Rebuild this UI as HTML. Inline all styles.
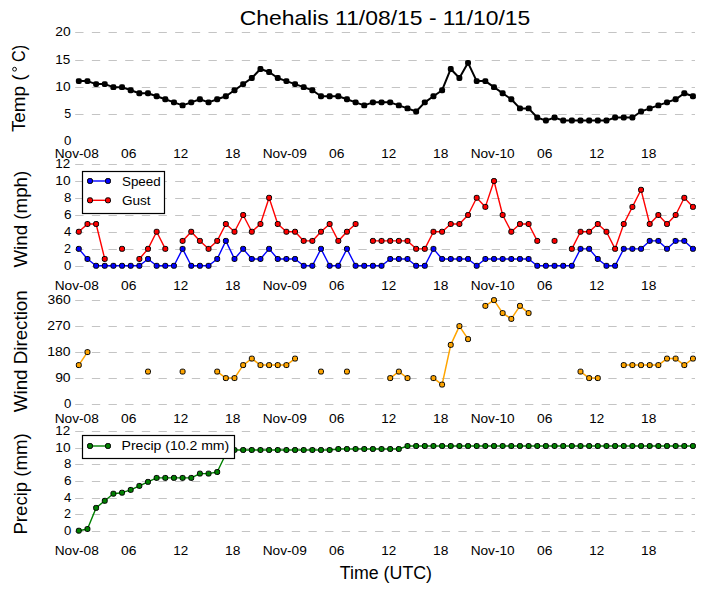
<!DOCTYPE html>
<html><head><meta charset="utf-8"><style>
html,body{margin:0;padding:0;background:#fff;overflow:hidden;width:705px;height:593px;}
svg{display:block;}
text{font-family:"Liberation Sans",sans-serif;fill:#000;}
.g{stroke:#c4c4c4;stroke-width:1;stroke-dasharray:8.33 8.33;}
</style></head><body>
<svg width="705" height="593" viewBox="0 0 705 593">
<rect width="705" height="593" fill="#fff"/>
<line x1="75.2" y1="32.5" x2="695.0" y2="32.5" class="g"/>
<line x1="75.2" y1="60.5" x2="695.0" y2="60.5" class="g"/>
<line x1="75.2" y1="87.5" x2="695.0" y2="87.5" class="g"/>
<line x1="75.2" y1="114.5" x2="695.0" y2="114.5" class="g"/>
<line x1="75.2" y1="164.5" x2="695.0" y2="164.5" class="g"/>
<line x1="75.2" y1="181.5" x2="695.0" y2="181.5" class="g"/>
<line x1="75.2" y1="198.5" x2="695.0" y2="198.5" class="g"/>
<line x1="75.2" y1="215.5" x2="695.0" y2="215.5" class="g"/>
<line x1="75.2" y1="232.5" x2="695.0" y2="232.5" class="g"/>
<line x1="75.2" y1="249.5" x2="695.0" y2="249.5" class="g"/>
<line x1="75.2" y1="266.5" x2="695.0" y2="266.5" class="g"/>
<line x1="75.2" y1="300.5" x2="695.0" y2="300.5" class="g"/>
<line x1="75.2" y1="326.5" x2="695.0" y2="326.5" class="g"/>
<line x1="75.2" y1="352.5" x2="695.0" y2="352.5" class="g"/>
<line x1="75.2" y1="378.5" x2="695.0" y2="378.5" class="g"/>
<line x1="75.2" y1="404.5" x2="695.0" y2="404.5" class="g"/>
<line x1="75.2" y1="431.5" x2="695.0" y2="431.5" class="g"/>
<line x1="75.2" y1="448.5" x2="695.0" y2="448.5" class="g"/>
<line x1="75.2" y1="464.5" x2="695.0" y2="464.5" class="g"/>
<line x1="75.2" y1="481.5" x2="695.0" y2="481.5" class="g"/>
<line x1="75.2" y1="498.5" x2="695.0" y2="498.5" class="g"/>
<line x1="75.2" y1="514.5" x2="695.0" y2="514.5" class="g"/>
<line x1="75.2" y1="531.5" x2="695.0" y2="531.5" class="g"/>
<text x="64.14" y="144.80" font-size="13.1" textLength="7.34" lengthAdjust="spacingAndGlyphs">0</text>
<text x="64.27" y="117.50" font-size="13.1" textLength="6.93" lengthAdjust="spacingAndGlyphs">5</text>
<text x="55.29" y="90.50" font-size="13.1" textLength="15.29" lengthAdjust="spacingAndGlyphs">10</text>
<text x="55.31" y="63.50" font-size="13.1" textLength="15.02" lengthAdjust="spacingAndGlyphs">15</text>
<text x="55.21" y="35.50" font-size="13.1" textLength="15.38" lengthAdjust="spacingAndGlyphs">20</text>
<text x="64.14" y="269.50" font-size="13.1" textLength="7.34" lengthAdjust="spacingAndGlyphs">0</text>
<text x="64.12" y="252.50" font-size="13.1" textLength="7.04" lengthAdjust="spacingAndGlyphs">2</text>
<text x="64.14" y="235.50" font-size="13.1" textLength="7.34" lengthAdjust="spacingAndGlyphs">4</text>
<text x="64.02" y="218.50" font-size="13.1" textLength="7.59" lengthAdjust="spacingAndGlyphs">6</text>
<text x="64.14" y="201.50" font-size="13.1" textLength="7.40" lengthAdjust="spacingAndGlyphs">8</text>
<text x="55.29" y="184.50" font-size="13.1" textLength="15.29" lengthAdjust="spacingAndGlyphs">10</text>
<text x="55.32" y="167.50" font-size="13.1" textLength="14.97" lengthAdjust="spacingAndGlyphs">12</text>
<text x="64.14" y="407.50" font-size="13.1" textLength="7.34" lengthAdjust="spacingAndGlyphs">0</text>
<text x="55.16" y="381.50" font-size="13.1" textLength="15.44" lengthAdjust="spacingAndGlyphs">90</text>
<text x="47.32" y="355.50" font-size="13.1" textLength="23.31" lengthAdjust="spacingAndGlyphs">180</text>
<text x="47.25" y="329.50" font-size="13.1" textLength="23.39" lengthAdjust="spacingAndGlyphs">270</text>
<text x="47.46" y="303.50" font-size="13.1" textLength="23.17" lengthAdjust="spacingAndGlyphs">360</text>
<text x="64.14" y="534.50" font-size="13.1" textLength="7.34" lengthAdjust="spacingAndGlyphs">0</text>
<text x="64.12" y="517.50" font-size="13.1" textLength="7.04" lengthAdjust="spacingAndGlyphs">2</text>
<text x="64.14" y="501.50" font-size="13.1" textLength="7.34" lengthAdjust="spacingAndGlyphs">4</text>
<text x="64.02" y="484.50" font-size="13.1" textLength="7.59" lengthAdjust="spacingAndGlyphs">6</text>
<text x="64.14" y="467.50" font-size="13.1" textLength="7.40" lengthAdjust="spacingAndGlyphs">8</text>
<text x="55.29" y="451.50" font-size="13.1" textLength="15.29" lengthAdjust="spacingAndGlyphs">10</text>
<text x="55.32" y="434.50" font-size="13.1" textLength="14.97" lengthAdjust="spacingAndGlyphs">12</text>
<text x="54.67" y="157.70" font-size="13.1" textLength="44.10" lengthAdjust="spacingAndGlyphs">Nov-08</text>
<text x="121.12" y="157.70" font-size="13.1" textLength="15.44" lengthAdjust="spacingAndGlyphs">06</text>
<text x="173.17" y="157.70" font-size="13.1" textLength="14.97" lengthAdjust="spacingAndGlyphs">12</text>
<text x="225.14" y="157.70" font-size="13.1" textLength="15.36" lengthAdjust="spacingAndGlyphs">18</text>
<text x="262.66" y="157.70" font-size="13.1" textLength="44.16" lengthAdjust="spacingAndGlyphs">Nov-09</text>
<text x="329.12" y="157.70" font-size="13.1" textLength="15.44" lengthAdjust="spacingAndGlyphs">06</text>
<text x="381.17" y="157.70" font-size="13.1" textLength="14.97" lengthAdjust="spacingAndGlyphs">12</text>
<text x="433.14" y="157.70" font-size="13.1" textLength="15.36" lengthAdjust="spacingAndGlyphs">18</text>
<text x="470.67" y="157.70" font-size="13.1" textLength="44.05" lengthAdjust="spacingAndGlyphs">Nov-10</text>
<text x="537.12" y="157.70" font-size="13.1" textLength="15.44" lengthAdjust="spacingAndGlyphs">06</text>
<text x="589.17" y="157.70" font-size="13.1" textLength="14.97" lengthAdjust="spacingAndGlyphs">12</text>
<text x="641.14" y="157.70" font-size="13.1" textLength="15.36" lengthAdjust="spacingAndGlyphs">18</text>
<text x="54.67" y="289.80" font-size="13.1" textLength="44.10" lengthAdjust="spacingAndGlyphs">Nov-08</text>
<text x="121.12" y="289.80" font-size="13.1" textLength="15.44" lengthAdjust="spacingAndGlyphs">06</text>
<text x="173.17" y="289.80" font-size="13.1" textLength="14.97" lengthAdjust="spacingAndGlyphs">12</text>
<text x="225.14" y="289.80" font-size="13.1" textLength="15.36" lengthAdjust="spacingAndGlyphs">18</text>
<text x="262.66" y="289.80" font-size="13.1" textLength="44.16" lengthAdjust="spacingAndGlyphs">Nov-09</text>
<text x="329.12" y="289.80" font-size="13.1" textLength="15.44" lengthAdjust="spacingAndGlyphs">06</text>
<text x="381.17" y="289.80" font-size="13.1" textLength="14.97" lengthAdjust="spacingAndGlyphs">12</text>
<text x="433.14" y="289.80" font-size="13.1" textLength="15.36" lengthAdjust="spacingAndGlyphs">18</text>
<text x="470.67" y="289.80" font-size="13.1" textLength="44.05" lengthAdjust="spacingAndGlyphs">Nov-10</text>
<text x="537.12" y="289.80" font-size="13.1" textLength="15.44" lengthAdjust="spacingAndGlyphs">06</text>
<text x="589.17" y="289.80" font-size="13.1" textLength="14.97" lengthAdjust="spacingAndGlyphs">12</text>
<text x="641.14" y="289.80" font-size="13.1" textLength="15.36" lengthAdjust="spacingAndGlyphs">18</text>
<text x="54.67" y="422.70" font-size="13.1" textLength="44.10" lengthAdjust="spacingAndGlyphs">Nov-08</text>
<text x="121.12" y="422.70" font-size="13.1" textLength="15.44" lengthAdjust="spacingAndGlyphs">06</text>
<text x="173.17" y="422.70" font-size="13.1" textLength="14.97" lengthAdjust="spacingAndGlyphs">12</text>
<text x="225.14" y="422.70" font-size="13.1" textLength="15.36" lengthAdjust="spacingAndGlyphs">18</text>
<text x="262.66" y="422.70" font-size="13.1" textLength="44.16" lengthAdjust="spacingAndGlyphs">Nov-09</text>
<text x="329.12" y="422.70" font-size="13.1" textLength="15.44" lengthAdjust="spacingAndGlyphs">06</text>
<text x="381.17" y="422.70" font-size="13.1" textLength="14.97" lengthAdjust="spacingAndGlyphs">12</text>
<text x="433.14" y="422.70" font-size="13.1" textLength="15.36" lengthAdjust="spacingAndGlyphs">18</text>
<text x="470.67" y="422.70" font-size="13.1" textLength="44.05" lengthAdjust="spacingAndGlyphs">Nov-10</text>
<text x="537.12" y="422.70" font-size="13.1" textLength="15.44" lengthAdjust="spacingAndGlyphs">06</text>
<text x="589.17" y="422.70" font-size="13.1" textLength="14.97" lengthAdjust="spacingAndGlyphs">12</text>
<text x="641.14" y="422.70" font-size="13.1" textLength="15.36" lengthAdjust="spacingAndGlyphs">18</text>
<text x="54.67" y="555.00" font-size="13.1" textLength="44.10" lengthAdjust="spacingAndGlyphs">Nov-08</text>
<text x="121.12" y="555.00" font-size="13.1" textLength="15.44" lengthAdjust="spacingAndGlyphs">06</text>
<text x="173.17" y="555.00" font-size="13.1" textLength="14.97" lengthAdjust="spacingAndGlyphs">12</text>
<text x="225.14" y="555.00" font-size="13.1" textLength="15.36" lengthAdjust="spacingAndGlyphs">18</text>
<text x="262.66" y="555.00" font-size="13.1" textLength="44.16" lengthAdjust="spacingAndGlyphs">Nov-09</text>
<text x="329.12" y="555.00" font-size="13.1" textLength="15.44" lengthAdjust="spacingAndGlyphs">06</text>
<text x="381.17" y="555.00" font-size="13.1" textLength="14.97" lengthAdjust="spacingAndGlyphs">12</text>
<text x="433.14" y="555.00" font-size="13.1" textLength="15.36" lengthAdjust="spacingAndGlyphs">18</text>
<text x="470.67" y="555.00" font-size="13.1" textLength="44.05" lengthAdjust="spacingAndGlyphs">Nov-10</text>
<text x="537.12" y="555.00" font-size="13.1" textLength="15.44" lengthAdjust="spacingAndGlyphs">06</text>
<text x="589.17" y="555.00" font-size="13.1" textLength="14.97" lengthAdjust="spacingAndGlyphs">12</text>
<text x="641.14" y="555.00" font-size="13.1" textLength="15.36" lengthAdjust="spacingAndGlyphs">18</text>
<polyline points="78.80,81.09 87.45,81.09 96.10,84.12 104.75,84.12 113.40,87.16 122.05,87.16 130.70,90.20 139.35,93.23 148.00,93.23 156.65,96.27 165.30,99.31 173.95,102.35 182.60,105.38 191.25,102.35 199.90,99.31 208.55,102.35 217.20,99.31 225.85,96.27 234.50,90.20 243.15,84.12 251.80,78.05 260.45,68.94 269.10,71.97 277.75,78.05 286.40,81.09 295.05,84.12 303.70,87.16 312.35,90.20 321.00,96.27 329.65,96.27 338.30,96.27 346.95,99.31 355.60,102.35 364.25,105.38 372.90,102.35 381.55,102.35 390.20,102.35 398.85,105.38 407.50,108.42 416.15,111.46 424.80,102.35 433.45,96.27 442.10,90.20 450.75,68.94 459.40,78.05 468.05,62.86 476.70,81.09 485.35,81.09 494.00,87.16 502.65,93.23 511.30,99.31 519.95,108.42 528.60,108.42 537.25,117.53 545.90,120.57 554.55,117.53 563.20,120.57 571.85,120.57 580.50,120.57 589.15,120.57 597.80,120.57 606.45,120.57 615.10,117.53 623.75,117.53 632.40,117.53 641.05,111.46 649.70,108.42 658.35,105.38 667.00,102.35 675.65,99.31 684.30,93.23 692.95,96.27" fill="none" stroke="#000" stroke-width="2" stroke-linejoin="round" stroke-linecap="butt"/>
<rect x="75.85" y="78.14" width="5.90" height="5.90" rx="1.95" fill="#000" stroke="#000" stroke-width="0"/>
<rect x="84.50" y="78.14" width="5.90" height="5.90" rx="1.95" fill="#000" stroke="#000" stroke-width="0"/>
<rect x="93.15" y="81.17" width="5.90" height="5.90" rx="1.95" fill="#000" stroke="#000" stroke-width="0"/>
<rect x="101.80" y="81.17" width="5.90" height="5.90" rx="1.95" fill="#000" stroke="#000" stroke-width="0"/>
<rect x="110.45" y="84.21" width="5.90" height="5.90" rx="1.95" fill="#000" stroke="#000" stroke-width="0"/>
<rect x="119.10" y="84.21" width="5.90" height="5.90" rx="1.95" fill="#000" stroke="#000" stroke-width="0"/>
<rect x="127.75" y="87.25" width="5.90" height="5.90" rx="1.95" fill="#000" stroke="#000" stroke-width="0"/>
<rect x="136.40" y="90.28" width="5.90" height="5.90" rx="1.95" fill="#000" stroke="#000" stroke-width="0"/>
<rect x="145.05" y="90.28" width="5.90" height="5.90" rx="1.95" fill="#000" stroke="#000" stroke-width="0"/>
<rect x="153.70" y="93.32" width="5.90" height="5.90" rx="1.95" fill="#000" stroke="#000" stroke-width="0"/>
<rect x="162.35" y="96.36" width="5.90" height="5.90" rx="1.95" fill="#000" stroke="#000" stroke-width="0"/>
<rect x="171.00" y="99.40" width="5.90" height="5.90" rx="1.95" fill="#000" stroke="#000" stroke-width="0"/>
<rect x="179.65" y="102.43" width="5.90" height="5.90" rx="1.95" fill="#000" stroke="#000" stroke-width="0"/>
<rect x="188.30" y="99.40" width="5.90" height="5.90" rx="1.95" fill="#000" stroke="#000" stroke-width="0"/>
<rect x="196.95" y="96.36" width="5.90" height="5.90" rx="1.95" fill="#000" stroke="#000" stroke-width="0"/>
<rect x="205.60" y="99.40" width="5.90" height="5.90" rx="1.95" fill="#000" stroke="#000" stroke-width="0"/>
<rect x="214.25" y="96.36" width="5.90" height="5.90" rx="1.95" fill="#000" stroke="#000" stroke-width="0"/>
<rect x="222.90" y="93.32" width="5.90" height="5.90" rx="1.95" fill="#000" stroke="#000" stroke-width="0"/>
<rect x="231.55" y="87.25" width="5.90" height="5.90" rx="1.95" fill="#000" stroke="#000" stroke-width="0"/>
<rect x="240.20" y="81.17" width="5.90" height="5.90" rx="1.95" fill="#000" stroke="#000" stroke-width="0"/>
<rect x="248.85" y="75.10" width="5.90" height="5.90" rx="1.95" fill="#000" stroke="#000" stroke-width="0"/>
<rect x="257.50" y="65.99" width="5.90" height="5.90" rx="1.95" fill="#000" stroke="#000" stroke-width="0"/>
<rect x="266.15" y="69.02" width="5.90" height="5.90" rx="1.95" fill="#000" stroke="#000" stroke-width="0"/>
<rect x="274.80" y="75.10" width="5.90" height="5.90" rx="1.95" fill="#000" stroke="#000" stroke-width="0"/>
<rect x="283.45" y="78.14" width="5.90" height="5.90" rx="1.95" fill="#000" stroke="#000" stroke-width="0"/>
<rect x="292.10" y="81.17" width="5.90" height="5.90" rx="1.95" fill="#000" stroke="#000" stroke-width="0"/>
<rect x="300.75" y="84.21" width="5.90" height="5.90" rx="1.95" fill="#000" stroke="#000" stroke-width="0"/>
<rect x="309.40" y="87.25" width="5.90" height="5.90" rx="1.95" fill="#000" stroke="#000" stroke-width="0"/>
<rect x="318.05" y="93.32" width="5.90" height="5.90" rx="1.95" fill="#000" stroke="#000" stroke-width="0"/>
<rect x="326.70" y="93.32" width="5.90" height="5.90" rx="1.95" fill="#000" stroke="#000" stroke-width="0"/>
<rect x="335.35" y="93.32" width="5.90" height="5.90" rx="1.95" fill="#000" stroke="#000" stroke-width="0"/>
<rect x="344.00" y="96.36" width="5.90" height="5.90" rx="1.95" fill="#000" stroke="#000" stroke-width="0"/>
<rect x="352.65" y="99.40" width="5.90" height="5.90" rx="1.95" fill="#000" stroke="#000" stroke-width="0"/>
<rect x="361.30" y="102.43" width="5.90" height="5.90" rx="1.95" fill="#000" stroke="#000" stroke-width="0"/>
<rect x="369.95" y="99.40" width="5.90" height="5.90" rx="1.95" fill="#000" stroke="#000" stroke-width="0"/>
<rect x="378.60" y="99.40" width="5.90" height="5.90" rx="1.95" fill="#000" stroke="#000" stroke-width="0"/>
<rect x="387.25" y="99.40" width="5.90" height="5.90" rx="1.95" fill="#000" stroke="#000" stroke-width="0"/>
<rect x="395.90" y="102.43" width="5.90" height="5.90" rx="1.95" fill="#000" stroke="#000" stroke-width="0"/>
<rect x="404.55" y="105.47" width="5.90" height="5.90" rx="1.95" fill="#000" stroke="#000" stroke-width="0"/>
<rect x="413.20" y="108.51" width="5.90" height="5.90" rx="1.95" fill="#000" stroke="#000" stroke-width="0"/>
<rect x="421.85" y="99.40" width="5.90" height="5.90" rx="1.95" fill="#000" stroke="#000" stroke-width="0"/>
<rect x="430.50" y="93.32" width="5.90" height="5.90" rx="1.95" fill="#000" stroke="#000" stroke-width="0"/>
<rect x="439.15" y="87.25" width="5.90" height="5.90" rx="1.95" fill="#000" stroke="#000" stroke-width="0"/>
<rect x="447.80" y="65.99" width="5.90" height="5.90" rx="1.95" fill="#000" stroke="#000" stroke-width="0"/>
<rect x="456.45" y="75.10" width="5.90" height="5.90" rx="1.95" fill="#000" stroke="#000" stroke-width="0"/>
<rect x="465.10" y="59.91" width="5.90" height="5.90" rx="1.95" fill="#000" stroke="#000" stroke-width="0"/>
<rect x="473.75" y="78.14" width="5.90" height="5.90" rx="1.95" fill="#000" stroke="#000" stroke-width="0"/>
<rect x="482.40" y="78.14" width="5.90" height="5.90" rx="1.95" fill="#000" stroke="#000" stroke-width="0"/>
<rect x="491.05" y="84.21" width="5.90" height="5.90" rx="1.95" fill="#000" stroke="#000" stroke-width="0"/>
<rect x="499.70" y="90.28" width="5.90" height="5.90" rx="1.95" fill="#000" stroke="#000" stroke-width="0"/>
<rect x="508.35" y="96.36" width="5.90" height="5.90" rx="1.95" fill="#000" stroke="#000" stroke-width="0"/>
<rect x="517.00" y="105.47" width="5.90" height="5.90" rx="1.95" fill="#000" stroke="#000" stroke-width="0"/>
<rect x="525.65" y="105.47" width="5.90" height="5.90" rx="1.95" fill="#000" stroke="#000" stroke-width="0"/>
<rect x="534.30" y="114.58" width="5.90" height="5.90" rx="1.95" fill="#000" stroke="#000" stroke-width="0"/>
<rect x="542.95" y="117.62" width="5.90" height="5.90" rx="1.95" fill="#000" stroke="#000" stroke-width="0"/>
<rect x="551.60" y="114.58" width="5.90" height="5.90" rx="1.95" fill="#000" stroke="#000" stroke-width="0"/>
<rect x="560.25" y="117.62" width="5.90" height="5.90" rx="1.95" fill="#000" stroke="#000" stroke-width="0"/>
<rect x="568.90" y="117.62" width="5.90" height="5.90" rx="1.95" fill="#000" stroke="#000" stroke-width="0"/>
<rect x="577.55" y="117.62" width="5.90" height="5.90" rx="1.95" fill="#000" stroke="#000" stroke-width="0"/>
<rect x="586.20" y="117.62" width="5.90" height="5.90" rx="1.95" fill="#000" stroke="#000" stroke-width="0"/>
<rect x="594.85" y="117.62" width="5.90" height="5.90" rx="1.95" fill="#000" stroke="#000" stroke-width="0"/>
<rect x="603.50" y="117.62" width="5.90" height="5.90" rx="1.95" fill="#000" stroke="#000" stroke-width="0"/>
<rect x="612.15" y="114.58" width="5.90" height="5.90" rx="1.95" fill="#000" stroke="#000" stroke-width="0"/>
<rect x="620.80" y="114.58" width="5.90" height="5.90" rx="1.95" fill="#000" stroke="#000" stroke-width="0"/>
<rect x="629.45" y="114.58" width="5.90" height="5.90" rx="1.95" fill="#000" stroke="#000" stroke-width="0"/>
<rect x="638.10" y="108.51" width="5.90" height="5.90" rx="1.95" fill="#000" stroke="#000" stroke-width="0"/>
<rect x="646.75" y="105.47" width="5.90" height="5.90" rx="1.95" fill="#000" stroke="#000" stroke-width="0"/>
<rect x="655.40" y="102.43" width="5.90" height="5.90" rx="1.95" fill="#000" stroke="#000" stroke-width="0"/>
<rect x="664.05" y="99.40" width="5.90" height="5.90" rx="1.95" fill="#000" stroke="#000" stroke-width="0"/>
<rect x="672.70" y="96.36" width="5.90" height="5.90" rx="1.95" fill="#000" stroke="#000" stroke-width="0"/>
<rect x="681.35" y="90.28" width="5.90" height="5.90" rx="1.95" fill="#000" stroke="#000" stroke-width="0"/>
<rect x="690.00" y="93.32" width="5.90" height="5.90" rx="1.95" fill="#000" stroke="#000" stroke-width="0"/>
<polyline points="78.80,248.85 87.45,258.95 96.10,265.80 104.75,265.80 113.40,265.80 122.05,265.80 130.70,265.80 139.35,265.80 148.00,258.95 156.65,265.80 165.30,265.80 173.95,265.80 182.60,248.85 191.25,265.80 199.90,265.80 208.55,265.80 217.20,258.95 225.85,240.90 234.50,258.95 243.15,248.85 251.80,258.95 260.45,258.95 269.10,248.85 277.75,258.95 286.40,258.95 295.05,258.95 303.70,265.80 312.35,265.80 321.00,248.85 329.65,265.80 338.30,265.80 346.95,248.85 355.60,265.80 364.25,265.80 372.90,265.80 381.55,265.80 390.20,258.95 398.85,258.95 407.50,258.95 416.15,265.80 424.80,265.80 433.45,248.85 442.10,258.95 450.75,258.95 459.40,258.95 468.05,258.95 476.70,265.80 485.35,258.95 494.00,258.95 502.65,258.95 511.30,258.95 519.95,258.95 528.60,258.95 537.25,265.80 545.90,265.80 554.55,265.80 563.20,265.80 571.85,265.80 580.50,248.85 589.15,248.85 597.80,258.95 606.45,265.80 615.10,265.80 623.75,248.85 632.40,248.85 641.05,248.85 649.70,240.90 658.35,240.90 667.00,248.85 675.65,240.90 684.30,240.90 692.95,248.85" fill="none" stroke="#0000ff" stroke-width="1.4" stroke-linejoin="round" stroke-linecap="butt"/>
<rect x="76.35" y="246.40" width="4.90" height="4.90" rx="1.62" fill="#0000ff" stroke="#000" stroke-width="1.0"/>
<rect x="85.00" y="256.50" width="4.90" height="4.90" rx="1.62" fill="#0000ff" stroke="#000" stroke-width="1.0"/>
<rect x="93.65" y="263.35" width="4.90" height="4.90" rx="1.62" fill="#0000ff" stroke="#000" stroke-width="1.0"/>
<rect x="102.30" y="263.35" width="4.90" height="4.90" rx="1.62" fill="#0000ff" stroke="#000" stroke-width="1.0"/>
<rect x="110.95" y="263.35" width="4.90" height="4.90" rx="1.62" fill="#0000ff" stroke="#000" stroke-width="1.0"/>
<rect x="119.60" y="263.35" width="4.90" height="4.90" rx="1.62" fill="#0000ff" stroke="#000" stroke-width="1.0"/>
<rect x="128.25" y="263.35" width="4.90" height="4.90" rx="1.62" fill="#0000ff" stroke="#000" stroke-width="1.0"/>
<rect x="136.90" y="263.35" width="4.90" height="4.90" rx="1.62" fill="#0000ff" stroke="#000" stroke-width="1.0"/>
<rect x="145.55" y="256.50" width="4.90" height="4.90" rx="1.62" fill="#0000ff" stroke="#000" stroke-width="1.0"/>
<rect x="154.20" y="263.35" width="4.90" height="4.90" rx="1.62" fill="#0000ff" stroke="#000" stroke-width="1.0"/>
<rect x="162.85" y="263.35" width="4.90" height="4.90" rx="1.62" fill="#0000ff" stroke="#000" stroke-width="1.0"/>
<rect x="171.50" y="263.35" width="4.90" height="4.90" rx="1.62" fill="#0000ff" stroke="#000" stroke-width="1.0"/>
<rect x="180.15" y="246.40" width="4.90" height="4.90" rx="1.62" fill="#0000ff" stroke="#000" stroke-width="1.0"/>
<rect x="188.80" y="263.35" width="4.90" height="4.90" rx="1.62" fill="#0000ff" stroke="#000" stroke-width="1.0"/>
<rect x="197.45" y="263.35" width="4.90" height="4.90" rx="1.62" fill="#0000ff" stroke="#000" stroke-width="1.0"/>
<rect x="206.10" y="263.35" width="4.90" height="4.90" rx="1.62" fill="#0000ff" stroke="#000" stroke-width="1.0"/>
<rect x="214.75" y="256.50" width="4.90" height="4.90" rx="1.62" fill="#0000ff" stroke="#000" stroke-width="1.0"/>
<rect x="223.40" y="238.45" width="4.90" height="4.90" rx="1.62" fill="#0000ff" stroke="#000" stroke-width="1.0"/>
<rect x="232.05" y="256.50" width="4.90" height="4.90" rx="1.62" fill="#0000ff" stroke="#000" stroke-width="1.0"/>
<rect x="240.70" y="246.40" width="4.90" height="4.90" rx="1.62" fill="#0000ff" stroke="#000" stroke-width="1.0"/>
<rect x="249.35" y="256.50" width="4.90" height="4.90" rx="1.62" fill="#0000ff" stroke="#000" stroke-width="1.0"/>
<rect x="258.00" y="256.50" width="4.90" height="4.90" rx="1.62" fill="#0000ff" stroke="#000" stroke-width="1.0"/>
<rect x="266.65" y="246.40" width="4.90" height="4.90" rx="1.62" fill="#0000ff" stroke="#000" stroke-width="1.0"/>
<rect x="275.30" y="256.50" width="4.90" height="4.90" rx="1.62" fill="#0000ff" stroke="#000" stroke-width="1.0"/>
<rect x="283.95" y="256.50" width="4.90" height="4.90" rx="1.62" fill="#0000ff" stroke="#000" stroke-width="1.0"/>
<rect x="292.60" y="256.50" width="4.90" height="4.90" rx="1.62" fill="#0000ff" stroke="#000" stroke-width="1.0"/>
<rect x="301.25" y="263.35" width="4.90" height="4.90" rx="1.62" fill="#0000ff" stroke="#000" stroke-width="1.0"/>
<rect x="309.90" y="263.35" width="4.90" height="4.90" rx="1.62" fill="#0000ff" stroke="#000" stroke-width="1.0"/>
<rect x="318.55" y="246.40" width="4.90" height="4.90" rx="1.62" fill="#0000ff" stroke="#000" stroke-width="1.0"/>
<rect x="327.20" y="263.35" width="4.90" height="4.90" rx="1.62" fill="#0000ff" stroke="#000" stroke-width="1.0"/>
<rect x="335.85" y="263.35" width="4.90" height="4.90" rx="1.62" fill="#0000ff" stroke="#000" stroke-width="1.0"/>
<rect x="344.50" y="246.40" width="4.90" height="4.90" rx="1.62" fill="#0000ff" stroke="#000" stroke-width="1.0"/>
<rect x="353.15" y="263.35" width="4.90" height="4.90" rx="1.62" fill="#0000ff" stroke="#000" stroke-width="1.0"/>
<rect x="361.80" y="263.35" width="4.90" height="4.90" rx="1.62" fill="#0000ff" stroke="#000" stroke-width="1.0"/>
<rect x="370.45" y="263.35" width="4.90" height="4.90" rx="1.62" fill="#0000ff" stroke="#000" stroke-width="1.0"/>
<rect x="379.10" y="263.35" width="4.90" height="4.90" rx="1.62" fill="#0000ff" stroke="#000" stroke-width="1.0"/>
<rect x="387.75" y="256.50" width="4.90" height="4.90" rx="1.62" fill="#0000ff" stroke="#000" stroke-width="1.0"/>
<rect x="396.40" y="256.50" width="4.90" height="4.90" rx="1.62" fill="#0000ff" stroke="#000" stroke-width="1.0"/>
<rect x="405.05" y="256.50" width="4.90" height="4.90" rx="1.62" fill="#0000ff" stroke="#000" stroke-width="1.0"/>
<rect x="413.70" y="263.35" width="4.90" height="4.90" rx="1.62" fill="#0000ff" stroke="#000" stroke-width="1.0"/>
<rect x="422.35" y="263.35" width="4.90" height="4.90" rx="1.62" fill="#0000ff" stroke="#000" stroke-width="1.0"/>
<rect x="431.00" y="246.40" width="4.90" height="4.90" rx="1.62" fill="#0000ff" stroke="#000" stroke-width="1.0"/>
<rect x="439.65" y="256.50" width="4.90" height="4.90" rx="1.62" fill="#0000ff" stroke="#000" stroke-width="1.0"/>
<rect x="448.30" y="256.50" width="4.90" height="4.90" rx="1.62" fill="#0000ff" stroke="#000" stroke-width="1.0"/>
<rect x="456.95" y="256.50" width="4.90" height="4.90" rx="1.62" fill="#0000ff" stroke="#000" stroke-width="1.0"/>
<rect x="465.60" y="256.50" width="4.90" height="4.90" rx="1.62" fill="#0000ff" stroke="#000" stroke-width="1.0"/>
<rect x="474.25" y="263.35" width="4.90" height="4.90" rx="1.62" fill="#0000ff" stroke="#000" stroke-width="1.0"/>
<rect x="482.90" y="256.50" width="4.90" height="4.90" rx="1.62" fill="#0000ff" stroke="#000" stroke-width="1.0"/>
<rect x="491.55" y="256.50" width="4.90" height="4.90" rx="1.62" fill="#0000ff" stroke="#000" stroke-width="1.0"/>
<rect x="500.20" y="256.50" width="4.90" height="4.90" rx="1.62" fill="#0000ff" stroke="#000" stroke-width="1.0"/>
<rect x="508.85" y="256.50" width="4.90" height="4.90" rx="1.62" fill="#0000ff" stroke="#000" stroke-width="1.0"/>
<rect x="517.50" y="256.50" width="4.90" height="4.90" rx="1.62" fill="#0000ff" stroke="#000" stroke-width="1.0"/>
<rect x="526.15" y="256.50" width="4.90" height="4.90" rx="1.62" fill="#0000ff" stroke="#000" stroke-width="1.0"/>
<rect x="534.80" y="263.35" width="4.90" height="4.90" rx="1.62" fill="#0000ff" stroke="#000" stroke-width="1.0"/>
<rect x="543.45" y="263.35" width="4.90" height="4.90" rx="1.62" fill="#0000ff" stroke="#000" stroke-width="1.0"/>
<rect x="552.10" y="263.35" width="4.90" height="4.90" rx="1.62" fill="#0000ff" stroke="#000" stroke-width="1.0"/>
<rect x="560.75" y="263.35" width="4.90" height="4.90" rx="1.62" fill="#0000ff" stroke="#000" stroke-width="1.0"/>
<rect x="569.40" y="263.35" width="4.90" height="4.90" rx="1.62" fill="#0000ff" stroke="#000" stroke-width="1.0"/>
<rect x="578.05" y="246.40" width="4.90" height="4.90" rx="1.62" fill="#0000ff" stroke="#000" stroke-width="1.0"/>
<rect x="586.70" y="246.40" width="4.90" height="4.90" rx="1.62" fill="#0000ff" stroke="#000" stroke-width="1.0"/>
<rect x="595.35" y="256.50" width="4.90" height="4.90" rx="1.62" fill="#0000ff" stroke="#000" stroke-width="1.0"/>
<rect x="604.00" y="263.35" width="4.90" height="4.90" rx="1.62" fill="#0000ff" stroke="#000" stroke-width="1.0"/>
<rect x="612.65" y="263.35" width="4.90" height="4.90" rx="1.62" fill="#0000ff" stroke="#000" stroke-width="1.0"/>
<rect x="621.30" y="246.40" width="4.90" height="4.90" rx="1.62" fill="#0000ff" stroke="#000" stroke-width="1.0"/>
<rect x="629.95" y="246.40" width="4.90" height="4.90" rx="1.62" fill="#0000ff" stroke="#000" stroke-width="1.0"/>
<rect x="638.60" y="246.40" width="4.90" height="4.90" rx="1.62" fill="#0000ff" stroke="#000" stroke-width="1.0"/>
<rect x="647.25" y="238.45" width="4.90" height="4.90" rx="1.62" fill="#0000ff" stroke="#000" stroke-width="1.0"/>
<rect x="655.90" y="238.45" width="4.90" height="4.90" rx="1.62" fill="#0000ff" stroke="#000" stroke-width="1.0"/>
<rect x="664.55" y="246.40" width="4.90" height="4.90" rx="1.62" fill="#0000ff" stroke="#000" stroke-width="1.0"/>
<rect x="673.20" y="238.45" width="4.90" height="4.90" rx="1.62" fill="#0000ff" stroke="#000" stroke-width="1.0"/>
<rect x="681.85" y="238.45" width="4.90" height="4.90" rx="1.62" fill="#0000ff" stroke="#000" stroke-width="1.0"/>
<rect x="690.50" y="246.40" width="4.90" height="4.90" rx="1.62" fill="#0000ff" stroke="#000" stroke-width="1.0"/>
<polyline points="78.80,231.75 87.45,224.00 96.10,224.00 104.75,258.95" fill="none" stroke="#ff0000" stroke-width="1.4" stroke-linejoin="round" stroke-linecap="butt"/>
<polyline points="139.35,258.95 148.00,248.85 156.65,231.75 165.30,248.85" fill="none" stroke="#ff0000" stroke-width="1.4" stroke-linejoin="round" stroke-linecap="butt"/>
<polyline points="182.60,240.90 191.25,231.75 199.90,240.90 208.55,248.85 217.20,240.90 225.85,224.00 234.50,231.75 243.15,215.00 251.80,231.75 260.45,224.00 269.10,197.80 277.75,224.00 286.40,231.75 295.05,231.75 303.70,240.90 312.35,240.90 321.00,231.75 329.65,224.00 338.30,240.90 346.95,231.75 355.60,224.00" fill="none" stroke="#ff0000" stroke-width="1.4" stroke-linejoin="round" stroke-linecap="butt"/>
<polyline points="372.90,240.90 381.55,240.90 390.20,240.90 398.85,240.90 407.50,240.90 416.15,248.85 424.80,248.85 433.45,231.75 442.10,231.75 450.75,224.00 459.40,224.00 468.05,215.00 476.70,197.80 485.35,206.90 494.00,181.00 502.65,215.00 511.30,231.75 519.95,224.00 528.60,224.00 537.25,240.90" fill="none" stroke="#ff0000" stroke-width="1.4" stroke-linejoin="round" stroke-linecap="butt"/>
<polyline points="571.85,248.85 580.50,231.75 589.15,231.75 597.80,224.00 606.45,231.75 615.10,248.85 623.75,224.00 632.40,206.90 641.05,189.80 649.70,224.00 658.35,215.00 667.00,224.00 675.65,215.00 684.30,197.80 692.95,206.90" fill="none" stroke="#ff0000" stroke-width="1.4" stroke-linejoin="round" stroke-linecap="butt"/>
<rect x="76.35" y="229.30" width="4.90" height="4.90" rx="1.62" fill="#ff0000" stroke="#000" stroke-width="1.0"/>
<rect x="85.00" y="221.55" width="4.90" height="4.90" rx="1.62" fill="#ff0000" stroke="#000" stroke-width="1.0"/>
<rect x="93.65" y="221.55" width="4.90" height="4.90" rx="1.62" fill="#ff0000" stroke="#000" stroke-width="1.0"/>
<rect x="102.30" y="256.50" width="4.90" height="4.90" rx="1.62" fill="#ff0000" stroke="#000" stroke-width="1.0"/>
<rect x="119.60" y="246.40" width="4.90" height="4.90" rx="1.62" fill="#ff0000" stroke="#000" stroke-width="1.0"/>
<rect x="136.90" y="256.50" width="4.90" height="4.90" rx="1.62" fill="#ff0000" stroke="#000" stroke-width="1.0"/>
<rect x="145.55" y="246.40" width="4.90" height="4.90" rx="1.62" fill="#ff0000" stroke="#000" stroke-width="1.0"/>
<rect x="154.20" y="229.30" width="4.90" height="4.90" rx="1.62" fill="#ff0000" stroke="#000" stroke-width="1.0"/>
<rect x="162.85" y="246.40" width="4.90" height="4.90" rx="1.62" fill="#ff0000" stroke="#000" stroke-width="1.0"/>
<rect x="180.15" y="238.45" width="4.90" height="4.90" rx="1.62" fill="#ff0000" stroke="#000" stroke-width="1.0"/>
<rect x="188.80" y="229.30" width="4.90" height="4.90" rx="1.62" fill="#ff0000" stroke="#000" stroke-width="1.0"/>
<rect x="197.45" y="238.45" width="4.90" height="4.90" rx="1.62" fill="#ff0000" stroke="#000" stroke-width="1.0"/>
<rect x="206.10" y="246.40" width="4.90" height="4.90" rx="1.62" fill="#ff0000" stroke="#000" stroke-width="1.0"/>
<rect x="214.75" y="238.45" width="4.90" height="4.90" rx="1.62" fill="#ff0000" stroke="#000" stroke-width="1.0"/>
<rect x="223.40" y="221.55" width="4.90" height="4.90" rx="1.62" fill="#ff0000" stroke="#000" stroke-width="1.0"/>
<rect x="232.05" y="229.30" width="4.90" height="4.90" rx="1.62" fill="#ff0000" stroke="#000" stroke-width="1.0"/>
<rect x="240.70" y="212.55" width="4.90" height="4.90" rx="1.62" fill="#ff0000" stroke="#000" stroke-width="1.0"/>
<rect x="249.35" y="229.30" width="4.90" height="4.90" rx="1.62" fill="#ff0000" stroke="#000" stroke-width="1.0"/>
<rect x="258.00" y="221.55" width="4.90" height="4.90" rx="1.62" fill="#ff0000" stroke="#000" stroke-width="1.0"/>
<rect x="266.65" y="195.35" width="4.90" height="4.90" rx="1.62" fill="#ff0000" stroke="#000" stroke-width="1.0"/>
<rect x="275.30" y="221.55" width="4.90" height="4.90" rx="1.62" fill="#ff0000" stroke="#000" stroke-width="1.0"/>
<rect x="283.95" y="229.30" width="4.90" height="4.90" rx="1.62" fill="#ff0000" stroke="#000" stroke-width="1.0"/>
<rect x="292.60" y="229.30" width="4.90" height="4.90" rx="1.62" fill="#ff0000" stroke="#000" stroke-width="1.0"/>
<rect x="301.25" y="238.45" width="4.90" height="4.90" rx="1.62" fill="#ff0000" stroke="#000" stroke-width="1.0"/>
<rect x="309.90" y="238.45" width="4.90" height="4.90" rx="1.62" fill="#ff0000" stroke="#000" stroke-width="1.0"/>
<rect x="318.55" y="229.30" width="4.90" height="4.90" rx="1.62" fill="#ff0000" stroke="#000" stroke-width="1.0"/>
<rect x="327.20" y="221.55" width="4.90" height="4.90" rx="1.62" fill="#ff0000" stroke="#000" stroke-width="1.0"/>
<rect x="335.85" y="238.45" width="4.90" height="4.90" rx="1.62" fill="#ff0000" stroke="#000" stroke-width="1.0"/>
<rect x="344.50" y="229.30" width="4.90" height="4.90" rx="1.62" fill="#ff0000" stroke="#000" stroke-width="1.0"/>
<rect x="353.15" y="221.55" width="4.90" height="4.90" rx="1.62" fill="#ff0000" stroke="#000" stroke-width="1.0"/>
<rect x="370.45" y="238.45" width="4.90" height="4.90" rx="1.62" fill="#ff0000" stroke="#000" stroke-width="1.0"/>
<rect x="379.10" y="238.45" width="4.90" height="4.90" rx="1.62" fill="#ff0000" stroke="#000" stroke-width="1.0"/>
<rect x="387.75" y="238.45" width="4.90" height="4.90" rx="1.62" fill="#ff0000" stroke="#000" stroke-width="1.0"/>
<rect x="396.40" y="238.45" width="4.90" height="4.90" rx="1.62" fill="#ff0000" stroke="#000" stroke-width="1.0"/>
<rect x="405.05" y="238.45" width="4.90" height="4.90" rx="1.62" fill="#ff0000" stroke="#000" stroke-width="1.0"/>
<rect x="413.70" y="246.40" width="4.90" height="4.90" rx="1.62" fill="#ff0000" stroke="#000" stroke-width="1.0"/>
<rect x="422.35" y="246.40" width="4.90" height="4.90" rx="1.62" fill="#ff0000" stroke="#000" stroke-width="1.0"/>
<rect x="431.00" y="229.30" width="4.90" height="4.90" rx="1.62" fill="#ff0000" stroke="#000" stroke-width="1.0"/>
<rect x="439.65" y="229.30" width="4.90" height="4.90" rx="1.62" fill="#ff0000" stroke="#000" stroke-width="1.0"/>
<rect x="448.30" y="221.55" width="4.90" height="4.90" rx="1.62" fill="#ff0000" stroke="#000" stroke-width="1.0"/>
<rect x="456.95" y="221.55" width="4.90" height="4.90" rx="1.62" fill="#ff0000" stroke="#000" stroke-width="1.0"/>
<rect x="465.60" y="212.55" width="4.90" height="4.90" rx="1.62" fill="#ff0000" stroke="#000" stroke-width="1.0"/>
<rect x="474.25" y="195.35" width="4.90" height="4.90" rx="1.62" fill="#ff0000" stroke="#000" stroke-width="1.0"/>
<rect x="482.90" y="204.45" width="4.90" height="4.90" rx="1.62" fill="#ff0000" stroke="#000" stroke-width="1.0"/>
<rect x="491.55" y="178.55" width="4.90" height="4.90" rx="1.62" fill="#ff0000" stroke="#000" stroke-width="1.0"/>
<rect x="500.20" y="212.55" width="4.90" height="4.90" rx="1.62" fill="#ff0000" stroke="#000" stroke-width="1.0"/>
<rect x="508.85" y="229.30" width="4.90" height="4.90" rx="1.62" fill="#ff0000" stroke="#000" stroke-width="1.0"/>
<rect x="517.50" y="221.55" width="4.90" height="4.90" rx="1.62" fill="#ff0000" stroke="#000" stroke-width="1.0"/>
<rect x="526.15" y="221.55" width="4.90" height="4.90" rx="1.62" fill="#ff0000" stroke="#000" stroke-width="1.0"/>
<rect x="534.80" y="238.45" width="4.90" height="4.90" rx="1.62" fill="#ff0000" stroke="#000" stroke-width="1.0"/>
<rect x="552.10" y="238.45" width="4.90" height="4.90" rx="1.62" fill="#ff0000" stroke="#000" stroke-width="1.0"/>
<rect x="569.40" y="246.40" width="4.90" height="4.90" rx="1.62" fill="#ff0000" stroke="#000" stroke-width="1.0"/>
<rect x="578.05" y="229.30" width="4.90" height="4.90" rx="1.62" fill="#ff0000" stroke="#000" stroke-width="1.0"/>
<rect x="586.70" y="229.30" width="4.90" height="4.90" rx="1.62" fill="#ff0000" stroke="#000" stroke-width="1.0"/>
<rect x="595.35" y="221.55" width="4.90" height="4.90" rx="1.62" fill="#ff0000" stroke="#000" stroke-width="1.0"/>
<rect x="604.00" y="229.30" width="4.90" height="4.90" rx="1.62" fill="#ff0000" stroke="#000" stroke-width="1.0"/>
<rect x="612.65" y="246.40" width="4.90" height="4.90" rx="1.62" fill="#ff0000" stroke="#000" stroke-width="1.0"/>
<rect x="621.30" y="221.55" width="4.90" height="4.90" rx="1.62" fill="#ff0000" stroke="#000" stroke-width="1.0"/>
<rect x="629.95" y="204.45" width="4.90" height="4.90" rx="1.62" fill="#ff0000" stroke="#000" stroke-width="1.0"/>
<rect x="638.60" y="187.35" width="4.90" height="4.90" rx="1.62" fill="#ff0000" stroke="#000" stroke-width="1.0"/>
<rect x="647.25" y="221.55" width="4.90" height="4.90" rx="1.62" fill="#ff0000" stroke="#000" stroke-width="1.0"/>
<rect x="655.90" y="212.55" width="4.90" height="4.90" rx="1.62" fill="#ff0000" stroke="#000" stroke-width="1.0"/>
<rect x="664.55" y="221.55" width="4.90" height="4.90" rx="1.62" fill="#ff0000" stroke="#000" stroke-width="1.0"/>
<rect x="673.20" y="212.55" width="4.90" height="4.90" rx="1.62" fill="#ff0000" stroke="#000" stroke-width="1.0"/>
<rect x="681.85" y="195.35" width="4.90" height="4.90" rx="1.62" fill="#ff0000" stroke="#000" stroke-width="1.0"/>
<rect x="690.50" y="204.45" width="4.90" height="4.90" rx="1.62" fill="#ff0000" stroke="#000" stroke-width="1.0"/>
<polyline points="78.80,365.10 87.45,352.10" fill="none" stroke="#ffa500" stroke-width="1.5" stroke-linejoin="round" stroke-linecap="butt"/>
<polyline points="217.20,371.60 225.85,378.10 234.50,378.10 243.15,365.10 251.80,358.60 260.45,365.10 269.10,365.10 277.75,365.10 286.40,365.10 295.05,358.60" fill="none" stroke="#ffa500" stroke-width="1.5" stroke-linejoin="round" stroke-linecap="butt"/>
<polyline points="390.20,378.10 398.85,371.60 407.50,378.10" fill="none" stroke="#ffa500" stroke-width="1.5" stroke-linejoin="round" stroke-linecap="butt"/>
<polyline points="433.45,378.10 442.10,384.60 450.75,344.88 459.40,326.10 468.05,339.10" fill="none" stroke="#ffa500" stroke-width="1.5" stroke-linejoin="round" stroke-linecap="butt"/>
<polyline points="485.35,305.88 494.00,300.10 502.65,313.10 511.30,318.88 519.95,305.88 528.60,313.10" fill="none" stroke="#ffa500" stroke-width="1.5" stroke-linejoin="round" stroke-linecap="butt"/>
<polyline points="580.50,371.60 589.15,378.10 597.80,378.10" fill="none" stroke="#ffa500" stroke-width="1.5" stroke-linejoin="round" stroke-linecap="butt"/>
<polyline points="623.75,365.10 632.40,365.10 641.05,365.10 649.70,365.10 658.35,365.10 667.00,358.60 675.65,358.60 684.30,365.10 692.95,358.60" fill="none" stroke="#ffa500" stroke-width="1.5" stroke-linejoin="round" stroke-linecap="butt"/>
<rect x="76.35" y="362.65" width="4.90" height="4.90" rx="1.62" fill="#ffa500" stroke="#000" stroke-width="1.0"/>
<rect x="85.00" y="349.65" width="4.90" height="4.90" rx="1.62" fill="#ffa500" stroke="#000" stroke-width="1.0"/>
<rect x="145.55" y="369.15" width="4.90" height="4.90" rx="1.62" fill="#ffa500" stroke="#000" stroke-width="1.0"/>
<rect x="180.15" y="369.15" width="4.90" height="4.90" rx="1.62" fill="#ffa500" stroke="#000" stroke-width="1.0"/>
<rect x="214.75" y="369.15" width="4.90" height="4.90" rx="1.62" fill="#ffa500" stroke="#000" stroke-width="1.0"/>
<rect x="223.40" y="375.65" width="4.90" height="4.90" rx="1.62" fill="#ffa500" stroke="#000" stroke-width="1.0"/>
<rect x="232.05" y="375.65" width="4.90" height="4.90" rx="1.62" fill="#ffa500" stroke="#000" stroke-width="1.0"/>
<rect x="240.70" y="362.65" width="4.90" height="4.90" rx="1.62" fill="#ffa500" stroke="#000" stroke-width="1.0"/>
<rect x="249.35" y="356.15" width="4.90" height="4.90" rx="1.62" fill="#ffa500" stroke="#000" stroke-width="1.0"/>
<rect x="258.00" y="362.65" width="4.90" height="4.90" rx="1.62" fill="#ffa500" stroke="#000" stroke-width="1.0"/>
<rect x="266.65" y="362.65" width="4.90" height="4.90" rx="1.62" fill="#ffa500" stroke="#000" stroke-width="1.0"/>
<rect x="275.30" y="362.65" width="4.90" height="4.90" rx="1.62" fill="#ffa500" stroke="#000" stroke-width="1.0"/>
<rect x="283.95" y="362.65" width="4.90" height="4.90" rx="1.62" fill="#ffa500" stroke="#000" stroke-width="1.0"/>
<rect x="292.60" y="356.15" width="4.90" height="4.90" rx="1.62" fill="#ffa500" stroke="#000" stroke-width="1.0"/>
<rect x="318.55" y="369.15" width="4.90" height="4.90" rx="1.62" fill="#ffa500" stroke="#000" stroke-width="1.0"/>
<rect x="344.50" y="369.15" width="4.90" height="4.90" rx="1.62" fill="#ffa500" stroke="#000" stroke-width="1.0"/>
<rect x="387.75" y="375.65" width="4.90" height="4.90" rx="1.62" fill="#ffa500" stroke="#000" stroke-width="1.0"/>
<rect x="396.40" y="369.15" width="4.90" height="4.90" rx="1.62" fill="#ffa500" stroke="#000" stroke-width="1.0"/>
<rect x="405.05" y="375.65" width="4.90" height="4.90" rx="1.62" fill="#ffa500" stroke="#000" stroke-width="1.0"/>
<rect x="431.00" y="375.65" width="4.90" height="4.90" rx="1.62" fill="#ffa500" stroke="#000" stroke-width="1.0"/>
<rect x="439.65" y="382.15" width="4.90" height="4.90" rx="1.62" fill="#ffa500" stroke="#000" stroke-width="1.0"/>
<rect x="448.30" y="342.43" width="4.90" height="4.90" rx="1.62" fill="#ffa500" stroke="#000" stroke-width="1.0"/>
<rect x="456.95" y="323.65" width="4.90" height="4.90" rx="1.62" fill="#ffa500" stroke="#000" stroke-width="1.0"/>
<rect x="465.60" y="336.65" width="4.90" height="4.90" rx="1.62" fill="#ffa500" stroke="#000" stroke-width="1.0"/>
<rect x="482.90" y="303.43" width="4.90" height="4.90" rx="1.62" fill="#ffa500" stroke="#000" stroke-width="1.0"/>
<rect x="491.55" y="297.65" width="4.90" height="4.90" rx="1.62" fill="#ffa500" stroke="#000" stroke-width="1.0"/>
<rect x="500.20" y="310.65" width="4.90" height="4.90" rx="1.62" fill="#ffa500" stroke="#000" stroke-width="1.0"/>
<rect x="508.85" y="316.43" width="4.90" height="4.90" rx="1.62" fill="#ffa500" stroke="#000" stroke-width="1.0"/>
<rect x="517.50" y="303.43" width="4.90" height="4.90" rx="1.62" fill="#ffa500" stroke="#000" stroke-width="1.0"/>
<rect x="526.15" y="310.65" width="4.90" height="4.90" rx="1.62" fill="#ffa500" stroke="#000" stroke-width="1.0"/>
<rect x="578.05" y="369.15" width="4.90" height="4.90" rx="1.62" fill="#ffa500" stroke="#000" stroke-width="1.0"/>
<rect x="586.70" y="375.65" width="4.90" height="4.90" rx="1.62" fill="#ffa500" stroke="#000" stroke-width="1.0"/>
<rect x="595.35" y="375.65" width="4.90" height="4.90" rx="1.62" fill="#ffa500" stroke="#000" stroke-width="1.0"/>
<rect x="621.30" y="362.65" width="4.90" height="4.90" rx="1.62" fill="#ffa500" stroke="#000" stroke-width="1.0"/>
<rect x="629.95" y="362.65" width="4.90" height="4.90" rx="1.62" fill="#ffa500" stroke="#000" stroke-width="1.0"/>
<rect x="638.60" y="362.65" width="4.90" height="4.90" rx="1.62" fill="#ffa500" stroke="#000" stroke-width="1.0"/>
<rect x="647.25" y="362.65" width="4.90" height="4.90" rx="1.62" fill="#ffa500" stroke="#000" stroke-width="1.0"/>
<rect x="655.90" y="362.65" width="4.90" height="4.90" rx="1.62" fill="#ffa500" stroke="#000" stroke-width="1.0"/>
<rect x="664.55" y="356.15" width="4.90" height="4.90" rx="1.62" fill="#ffa500" stroke="#000" stroke-width="1.0"/>
<rect x="673.20" y="356.15" width="4.90" height="4.90" rx="1.62" fill="#ffa500" stroke="#000" stroke-width="1.0"/>
<rect x="681.85" y="362.65" width="4.90" height="4.90" rx="1.62" fill="#ffa500" stroke="#000" stroke-width="1.0"/>
<rect x="690.50" y="356.15" width="4.90" height="4.90" rx="1.62" fill="#ffa500" stroke="#000" stroke-width="1.0"/>
<polyline points="78.80,530.70 87.45,529.00 96.10,507.90 104.75,500.80 113.40,493.70 122.05,492.70 130.70,489.90 139.35,485.90 148.00,481.90 156.65,477.90 165.30,477.90 173.95,477.90 182.60,477.90 191.25,477.90 199.90,473.60 208.55,473.60 217.20,472.00 225.85,454.00 234.50,450.00 243.15,450.00 251.80,450.00 260.45,450.00 269.10,450.00 277.75,450.00 286.40,450.00 295.05,450.00 303.70,450.00 312.35,450.00 321.00,450.00 329.65,450.00 338.30,449.00 346.95,449.00 355.60,449.00 364.25,449.00 372.90,449.00 381.55,449.00 390.20,449.00 398.85,449.00 407.50,446.00 416.15,446.00 424.80,446.00 433.45,446.00 442.10,446.00 450.75,446.00 459.40,446.00 468.05,446.00 476.70,446.00 485.35,446.00 494.00,446.00 502.65,446.00 511.30,446.00 519.95,446.00 528.60,446.00 537.25,446.00 545.90,446.00 554.55,446.00 563.20,446.00 571.85,446.00 580.50,446.00 589.15,446.00 597.80,446.00 606.45,446.00 615.10,446.00 623.75,446.00 632.40,446.00 641.05,446.00 649.70,446.00 658.35,446.00 667.00,446.00 675.65,446.00 684.30,446.00 692.95,446.00" fill="none" stroke="#008000" stroke-width="1.4" stroke-linejoin="round" stroke-linecap="butt"/>
<rect x="76.35" y="528.25" width="4.90" height="4.90" rx="1.62" fill="#008000" stroke="#000" stroke-width="1.0"/>
<rect x="85.00" y="526.55" width="4.90" height="4.90" rx="1.62" fill="#008000" stroke="#000" stroke-width="1.0"/>
<rect x="93.65" y="505.45" width="4.90" height="4.90" rx="1.62" fill="#008000" stroke="#000" stroke-width="1.0"/>
<rect x="102.30" y="498.35" width="4.90" height="4.90" rx="1.62" fill="#008000" stroke="#000" stroke-width="1.0"/>
<rect x="110.95" y="491.25" width="4.90" height="4.90" rx="1.62" fill="#008000" stroke="#000" stroke-width="1.0"/>
<rect x="119.60" y="490.25" width="4.90" height="4.90" rx="1.62" fill="#008000" stroke="#000" stroke-width="1.0"/>
<rect x="128.25" y="487.45" width="4.90" height="4.90" rx="1.62" fill="#008000" stroke="#000" stroke-width="1.0"/>
<rect x="136.90" y="483.45" width="4.90" height="4.90" rx="1.62" fill="#008000" stroke="#000" stroke-width="1.0"/>
<rect x="145.55" y="479.45" width="4.90" height="4.90" rx="1.62" fill="#008000" stroke="#000" stroke-width="1.0"/>
<rect x="154.20" y="475.45" width="4.90" height="4.90" rx="1.62" fill="#008000" stroke="#000" stroke-width="1.0"/>
<rect x="162.85" y="475.45" width="4.90" height="4.90" rx="1.62" fill="#008000" stroke="#000" stroke-width="1.0"/>
<rect x="171.50" y="475.45" width="4.90" height="4.90" rx="1.62" fill="#008000" stroke="#000" stroke-width="1.0"/>
<rect x="180.15" y="475.45" width="4.90" height="4.90" rx="1.62" fill="#008000" stroke="#000" stroke-width="1.0"/>
<rect x="188.80" y="475.45" width="4.90" height="4.90" rx="1.62" fill="#008000" stroke="#000" stroke-width="1.0"/>
<rect x="197.45" y="471.15" width="4.90" height="4.90" rx="1.62" fill="#008000" stroke="#000" stroke-width="1.0"/>
<rect x="206.10" y="471.15" width="4.90" height="4.90" rx="1.62" fill="#008000" stroke="#000" stroke-width="1.0"/>
<rect x="214.75" y="469.55" width="4.90" height="4.90" rx="1.62" fill="#008000" stroke="#000" stroke-width="1.0"/>
<rect x="223.40" y="451.55" width="4.90" height="4.90" rx="1.62" fill="#008000" stroke="#000" stroke-width="1.0"/>
<rect x="232.05" y="447.55" width="4.90" height="4.90" rx="1.62" fill="#008000" stroke="#000" stroke-width="1.0"/>
<rect x="240.70" y="447.55" width="4.90" height="4.90" rx="1.62" fill="#008000" stroke="#000" stroke-width="1.0"/>
<rect x="249.35" y="447.55" width="4.90" height="4.90" rx="1.62" fill="#008000" stroke="#000" stroke-width="1.0"/>
<rect x="258.00" y="447.55" width="4.90" height="4.90" rx="1.62" fill="#008000" stroke="#000" stroke-width="1.0"/>
<rect x="266.65" y="447.55" width="4.90" height="4.90" rx="1.62" fill="#008000" stroke="#000" stroke-width="1.0"/>
<rect x="275.30" y="447.55" width="4.90" height="4.90" rx="1.62" fill="#008000" stroke="#000" stroke-width="1.0"/>
<rect x="283.95" y="447.55" width="4.90" height="4.90" rx="1.62" fill="#008000" stroke="#000" stroke-width="1.0"/>
<rect x="292.60" y="447.55" width="4.90" height="4.90" rx="1.62" fill="#008000" stroke="#000" stroke-width="1.0"/>
<rect x="301.25" y="447.55" width="4.90" height="4.90" rx="1.62" fill="#008000" stroke="#000" stroke-width="1.0"/>
<rect x="309.90" y="447.55" width="4.90" height="4.90" rx="1.62" fill="#008000" stroke="#000" stroke-width="1.0"/>
<rect x="318.55" y="447.55" width="4.90" height="4.90" rx="1.62" fill="#008000" stroke="#000" stroke-width="1.0"/>
<rect x="327.20" y="447.55" width="4.90" height="4.90" rx="1.62" fill="#008000" stroke="#000" stroke-width="1.0"/>
<rect x="335.85" y="446.55" width="4.90" height="4.90" rx="1.62" fill="#008000" stroke="#000" stroke-width="1.0"/>
<rect x="344.50" y="446.55" width="4.90" height="4.90" rx="1.62" fill="#008000" stroke="#000" stroke-width="1.0"/>
<rect x="353.15" y="446.55" width="4.90" height="4.90" rx="1.62" fill="#008000" stroke="#000" stroke-width="1.0"/>
<rect x="361.80" y="446.55" width="4.90" height="4.90" rx="1.62" fill="#008000" stroke="#000" stroke-width="1.0"/>
<rect x="370.45" y="446.55" width="4.90" height="4.90" rx="1.62" fill="#008000" stroke="#000" stroke-width="1.0"/>
<rect x="379.10" y="446.55" width="4.90" height="4.90" rx="1.62" fill="#008000" stroke="#000" stroke-width="1.0"/>
<rect x="387.75" y="446.55" width="4.90" height="4.90" rx="1.62" fill="#008000" stroke="#000" stroke-width="1.0"/>
<rect x="396.40" y="446.55" width="4.90" height="4.90" rx="1.62" fill="#008000" stroke="#000" stroke-width="1.0"/>
<rect x="405.05" y="443.55" width="4.90" height="4.90" rx="1.62" fill="#008000" stroke="#000" stroke-width="1.0"/>
<rect x="413.70" y="443.55" width="4.90" height="4.90" rx="1.62" fill="#008000" stroke="#000" stroke-width="1.0"/>
<rect x="422.35" y="443.55" width="4.90" height="4.90" rx="1.62" fill="#008000" stroke="#000" stroke-width="1.0"/>
<rect x="431.00" y="443.55" width="4.90" height="4.90" rx="1.62" fill="#008000" stroke="#000" stroke-width="1.0"/>
<rect x="439.65" y="443.55" width="4.90" height="4.90" rx="1.62" fill="#008000" stroke="#000" stroke-width="1.0"/>
<rect x="448.30" y="443.55" width="4.90" height="4.90" rx="1.62" fill="#008000" stroke="#000" stroke-width="1.0"/>
<rect x="456.95" y="443.55" width="4.90" height="4.90" rx="1.62" fill="#008000" stroke="#000" stroke-width="1.0"/>
<rect x="465.60" y="443.55" width="4.90" height="4.90" rx="1.62" fill="#008000" stroke="#000" stroke-width="1.0"/>
<rect x="474.25" y="443.55" width="4.90" height="4.90" rx="1.62" fill="#008000" stroke="#000" stroke-width="1.0"/>
<rect x="482.90" y="443.55" width="4.90" height="4.90" rx="1.62" fill="#008000" stroke="#000" stroke-width="1.0"/>
<rect x="491.55" y="443.55" width="4.90" height="4.90" rx="1.62" fill="#008000" stroke="#000" stroke-width="1.0"/>
<rect x="500.20" y="443.55" width="4.90" height="4.90" rx="1.62" fill="#008000" stroke="#000" stroke-width="1.0"/>
<rect x="508.85" y="443.55" width="4.90" height="4.90" rx="1.62" fill="#008000" stroke="#000" stroke-width="1.0"/>
<rect x="517.50" y="443.55" width="4.90" height="4.90" rx="1.62" fill="#008000" stroke="#000" stroke-width="1.0"/>
<rect x="526.15" y="443.55" width="4.90" height="4.90" rx="1.62" fill="#008000" stroke="#000" stroke-width="1.0"/>
<rect x="534.80" y="443.55" width="4.90" height="4.90" rx="1.62" fill="#008000" stroke="#000" stroke-width="1.0"/>
<rect x="543.45" y="443.55" width="4.90" height="4.90" rx="1.62" fill="#008000" stroke="#000" stroke-width="1.0"/>
<rect x="552.10" y="443.55" width="4.90" height="4.90" rx="1.62" fill="#008000" stroke="#000" stroke-width="1.0"/>
<rect x="560.75" y="443.55" width="4.90" height="4.90" rx="1.62" fill="#008000" stroke="#000" stroke-width="1.0"/>
<rect x="569.40" y="443.55" width="4.90" height="4.90" rx="1.62" fill="#008000" stroke="#000" stroke-width="1.0"/>
<rect x="578.05" y="443.55" width="4.90" height="4.90" rx="1.62" fill="#008000" stroke="#000" stroke-width="1.0"/>
<rect x="586.70" y="443.55" width="4.90" height="4.90" rx="1.62" fill="#008000" stroke="#000" stroke-width="1.0"/>
<rect x="595.35" y="443.55" width="4.90" height="4.90" rx="1.62" fill="#008000" stroke="#000" stroke-width="1.0"/>
<rect x="604.00" y="443.55" width="4.90" height="4.90" rx="1.62" fill="#008000" stroke="#000" stroke-width="1.0"/>
<rect x="612.65" y="443.55" width="4.90" height="4.90" rx="1.62" fill="#008000" stroke="#000" stroke-width="1.0"/>
<rect x="621.30" y="443.55" width="4.90" height="4.90" rx="1.62" fill="#008000" stroke="#000" stroke-width="1.0"/>
<rect x="629.95" y="443.55" width="4.90" height="4.90" rx="1.62" fill="#008000" stroke="#000" stroke-width="1.0"/>
<rect x="638.60" y="443.55" width="4.90" height="4.90" rx="1.62" fill="#008000" stroke="#000" stroke-width="1.0"/>
<rect x="647.25" y="443.55" width="4.90" height="4.90" rx="1.62" fill="#008000" stroke="#000" stroke-width="1.0"/>
<rect x="655.90" y="443.55" width="4.90" height="4.90" rx="1.62" fill="#008000" stroke="#000" stroke-width="1.0"/>
<rect x="664.55" y="443.55" width="4.90" height="4.90" rx="1.62" fill="#008000" stroke="#000" stroke-width="1.0"/>
<rect x="673.20" y="443.55" width="4.90" height="4.90" rx="1.62" fill="#008000" stroke="#000" stroke-width="1.0"/>
<rect x="681.85" y="443.55" width="4.90" height="4.90" rx="1.62" fill="#008000" stroke="#000" stroke-width="1.0"/>
<rect x="690.50" y="443.55" width="4.90" height="4.90" rx="1.62" fill="#008000" stroke="#000" stroke-width="1.0"/>
<rect x="82.5" y="171.5" width="82" height="42" fill="#fff" stroke="#000" stroke-width="1.2"/>
<polyline points="90.00,181.00 108.00,181.00" fill="none" stroke="#0000ff" stroke-width="1.4" stroke-linejoin="round" stroke-linecap="butt"/>
<rect x="87.55" y="178.55" width="4.90" height="4.90" rx="1.62" fill="#0000ff" stroke="#000" stroke-width="1.0"/>
<rect x="105.55" y="178.55" width="4.90" height="4.90" rx="1.62" fill="#0000ff" stroke="#000" stroke-width="1.0"/>
<polyline points="90.00,200.30 108.00,200.30" fill="none" stroke="#ff0000" stroke-width="1.4" stroke-linejoin="round" stroke-linecap="butt"/>
<rect x="87.55" y="197.85" width="4.90" height="4.90" rx="1.62" fill="#ff0000" stroke="#000" stroke-width="1.0"/>
<rect x="105.55" y="197.85" width="4.90" height="4.90" rx="1.62" fill="#ff0000" stroke="#000" stroke-width="1.0"/>
<text x="121.99" y="186.00" font-size="13.1" textLength="38.71" lengthAdjust="spacingAndGlyphs">Speed</text>
<text x="121.92" y="204.60" font-size="13.1" textLength="28.74" lengthAdjust="spacingAndGlyphs">Gust</text>
<rect x="82.5" y="435.5" width="152" height="23" fill="#fff" stroke="#000" stroke-width="1.2"/>
<polyline points="90.00,446.00 108.00,446.00" fill="none" stroke="#008000" stroke-width="1.4" stroke-linejoin="round" stroke-linecap="butt"/>
<rect x="87.55" y="443.55" width="4.90" height="4.90" rx="1.62" fill="#008000" stroke="#000" stroke-width="1.0"/>
<rect x="105.55" y="443.55" width="4.90" height="4.90" rx="1.62" fill="#008000" stroke="#000" stroke-width="1.0"/>
<text x="121.52" y="449.80" font-size="13.1" textLength="107.74" lengthAdjust="spacingAndGlyphs">Precip (10.2 mm)</text>
<text x="239.66" y="24.70" font-size="21" textLength="290.65" lengthAdjust="spacingAndGlyphs">Chehalis 11/08/15 - 11/10/15</text>
<text x="339.79" y="578.90" font-size="17.5" textLength="92.26" lengthAdjust="spacingAndGlyphs">Time (UTC)</text>
<text transform="translate(24.90,131.70) rotate(-90)" x="-0.43" font-size="17.5" textLength="57.57" lengthAdjust="spacingAndGlyphs">Temp (</text>
<circle cx="14.55" cy="69.2" r="1.9" fill="none" stroke="#000" stroke-width="1.0"/>
<text transform="translate(24.90,61.10) rotate(-90)" x="-0.83" font-size="17.5" textLength="17.01" lengthAdjust="spacingAndGlyphs">C)</text>
<text transform="translate(26.80,268.05) rotate(-90)" x="0.44" font-size="17.5" textLength="96.83" lengthAdjust="spacingAndGlyphs">Wind (mph)</text>
<text transform="translate(27.00,412.65) rotate(-90)" x="0.44" font-size="17.5" textLength="121.87" lengthAdjust="spacingAndGlyphs">Wind Direction</text>
<text transform="translate(27.00,534.65) rotate(-90)" x="0.11" font-size="17.5" textLength="101.25" lengthAdjust="spacingAndGlyphs">Precip (mm)</text>
</svg>
</body></html>
